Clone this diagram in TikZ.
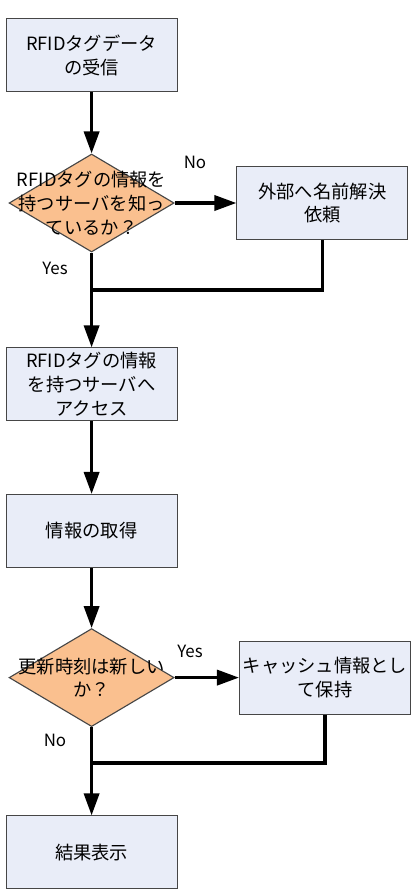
\documentclass[tikz,border=0pt]{standalone}
\usepackage{fontspec}
\setmainfont{Noto Sans CJK JP}
\usepackage{tikz}
\usetikzlibrary{arrows.meta, positioning, shapes.geometric}
\definecolor{boxfill}{RGB}{233,237,248}
\definecolor{decfill}{RGB}{250,192,143}
\definecolor{edgegray}{RGB}{70,70,70}
\tikzset{
  blk/.style={rectangle, line width=0.8pt, draw=edgegray, align=center,
              font=\fontsize{13}{17}\selectfont, inner sep=1pt},
  procb/.style={blk, fill=boxfill, minimum width=4.275cm, minimum height=1.825cm},
  decb/.style={diamond, line width=0.8pt, draw=edgegray, fill=decfill, inner sep=0pt,
               minimum width=4.125cm, minimum height=2.45cm},
  dectxt/.style={align=center, font=\fontsize{13}{17}\selectfont, inner sep=0pt},
  flow/.style={-{Triangle[length=5.5mm, width=3.8mm]}, line width=2.2pt, draw=black},
  mergeline/.style={line width=2.2pt, draw=black},
  yn/.style={font=\fontsize{12}{14}\selectfont, inner sep=1pt},
}
\begin{document}
\begin{tikzpicture}
  \useasboundingbox (0,0) rectangle (10.375,-22.25);
  \node[procb] (recv)    at (2.29,-1.375)   {RFIDタグデータ\\の受信};
  \node[decb, label={[dectxt]center:{RFIDタグの情報を\\持つサーバを知っ\\ているか？}}]
                 (q1)      at (2.29,-5.075)   {};
  \node[procb] (resolve) at (8.06,-5.075)   {外部へ名前解決\\依頼};
  \node[procb] (access)  at (2.29,-9.61)    {RFIDタグの情報\\を持つサーバへ\\アクセス};
  \node[procb] (fetch)   at (2.29,-13.275)  {情報の取得};
  \node[decb, label={[dectxt]center:{更新時刻は新しい\\か？}}]
                 (q2)      at (2.29,-16.94)   {};
  \node[procb] (cache)   at (8.125,-16.94)  {キャッシュ情報とし\\て保持};
  \node[procb] (show)    at (2.29,-21.31)   {結果表示};
  \coordinate (j1) at (2.29,-7.25);
  \coordinate (j2) at (2.29,-19.075);
  \node[yn] (no1)  at (4.875,-4.05)  {No};
  \node[yn] (yes1) at (1.375,-6.7)   {Yes};
  \node[yn] (yes2) at (4.75,-16.275) {Yes};
  \node[yn] (no2)  at (1.375,-18.5)  {No};
  \draw[flow] (recv) -- (q1);
  \draw[flow] (q1) -- (resolve);
  \draw[flow] (q1) -- (access);
  \draw[mergeline] (resolve.south) |- (j1);
  \draw[flow] (access) -- (fetch);
  \draw[flow] (fetch) -- (q2);
  \draw[flow] (q2) -- (cache);
  \draw[flow] (q2) -- (show);
  \draw[mergeline] (cache.south) |- (j2);
\end{tikzpicture}
\end{document}
